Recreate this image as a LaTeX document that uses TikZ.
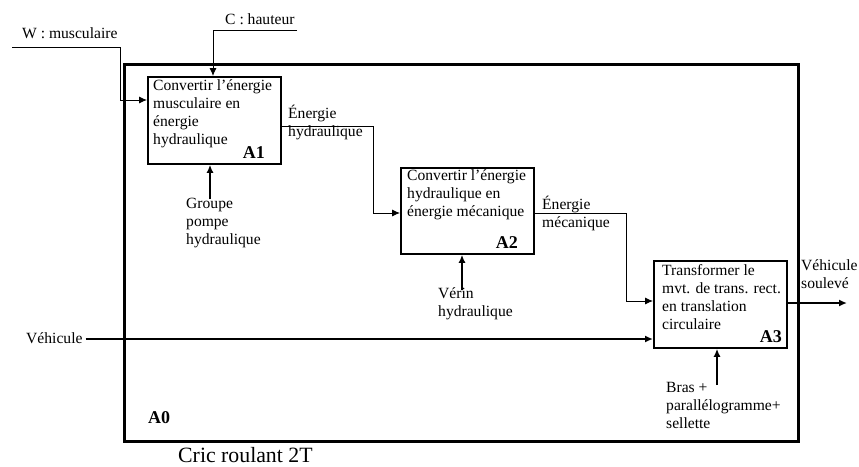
\documentclass[tikz,border=0pt]{standalone}
\usepackage{fontspec}
\setmainfont{Liberation Serif}
\usepackage{tikz}
\usetikzlibrary{arrows.meta,positioning,calc}

\begin{document}
\begin{tikzpicture}[x=1pt,y=-1pt,
  txt/.style={font=\fontsize{15.6}{18}\selectfont,inner sep=0pt,anchor=base west,align=left},
  tag/.style={font=\fontsize{18}{20}\selectfont\bfseries,inner sep=0pt},
  fbox/.style={draw,line width=1.8pt,minimum width=133pt,minimum height=87pt,anchor=north west,inner sep=0pt},
  flow/.style={line width=0.9pt,-{Latex[length=8pt,width=7pt]}},
  mec/.style={line width=2pt,-{Latex[length=8pt,width=7pt]}}]
\useasboundingbox (0,0) rectangle (859,466);
\node[draw,line width=2.6pt,minimum width=674pt,minimum height=377pt,anchor=north west,inner sep=0pt] (a0) at (123,63) {};
\node[fbox] (a1) at (147,76) {};
\node[fbox,minimum height=86pt] (a2) at (400,167) {};
\node[fbox] (a3) at (653,260) {};
\node[txt] (t1) at (153,144) {Convertir l’énergie\\musculaire en\\énergie\\hydraulique};
\node[txt] (t2) at (407,216) {Convertir l’énergie\\hydraulique en\\énergie mécanique};
\node[txt] (t3) at (662,329) {Transformer le\\mvt. de trans. rect.\\en translation\\circulaire};
\node[tag,anchor=base east] (n1) at (265,158) {A1};
\node[tag,anchor=base east] (n2) at (518,248) {A2};
\node[tag,anchor=base east] (n3) at (782,342) {A3};
\node[tag,anchor=base west] (n0) at (148,423) {A0};
\node[txt,font=\fontsize{21.8}{24}\selectfont] (cric) at (178,462) {Cric roulant 2T};
\coordinate (w0) at (12,47);
\coordinate (c0) at (297,30);
\draw[flow] (w0) -- (120,47) |- ($(a1.north west)+(0,24)$);
\node[txt] (wl) at (22,38) {W : musculaire};
\draw[flow] (c0) -| ($(a1.north west)+(66,0)$);
\node[txt] (cl) at (225,24) {C : hauteur};
\draw[flow] ($(a1.north east)+(0,50)$) -- (373,126) |- ($(a2.north west)+(0,46)$);
\node[txt] (eh) at (288,136) {Énergie\\hydraulique};
\draw[flow] ($(a2.north east)+(0,46)$) -- (626,213) |- ($(a3.north west)+(0,41)$);
\node[txt] (em) at (542,227) {Énergie\\mécanique};
\node[txt] (veh) at (26,343) {Véhicule};
\coordinate (vin) at ($(veh.base east)+(3,-4)$);
\draw[mec] (vin) -- (vin -| a3.west);
\coordinate (vout) at (847,303);
\draw[mec] ($(a3.north east)+(0,43)$) -- (vout);
\node[txt] (vs) at (801,288) {Véhicule\\soulevé};
\node[txt] (gp) at (186,244) {Groupe\\pompe\\hydraulique};
\coordinate (g0) at (210,199);
\draw[mec] (g0) -- (g0 |- a1.south);
\node[txt] (vr) at (438,316) {Vérin\\hydraulique};
\coordinate (v0) at (462,290);
\draw[mec] (v0) -- (v0 |- a2.south);
\node[txt] (br) at (666,428) {Bras +\\parallélogramme+\\sellette};
\coordinate (b0) at (717,385);
\draw[mec] (b0) -- (b0 |- a3.south);
\end{tikzpicture}
\end{document}
